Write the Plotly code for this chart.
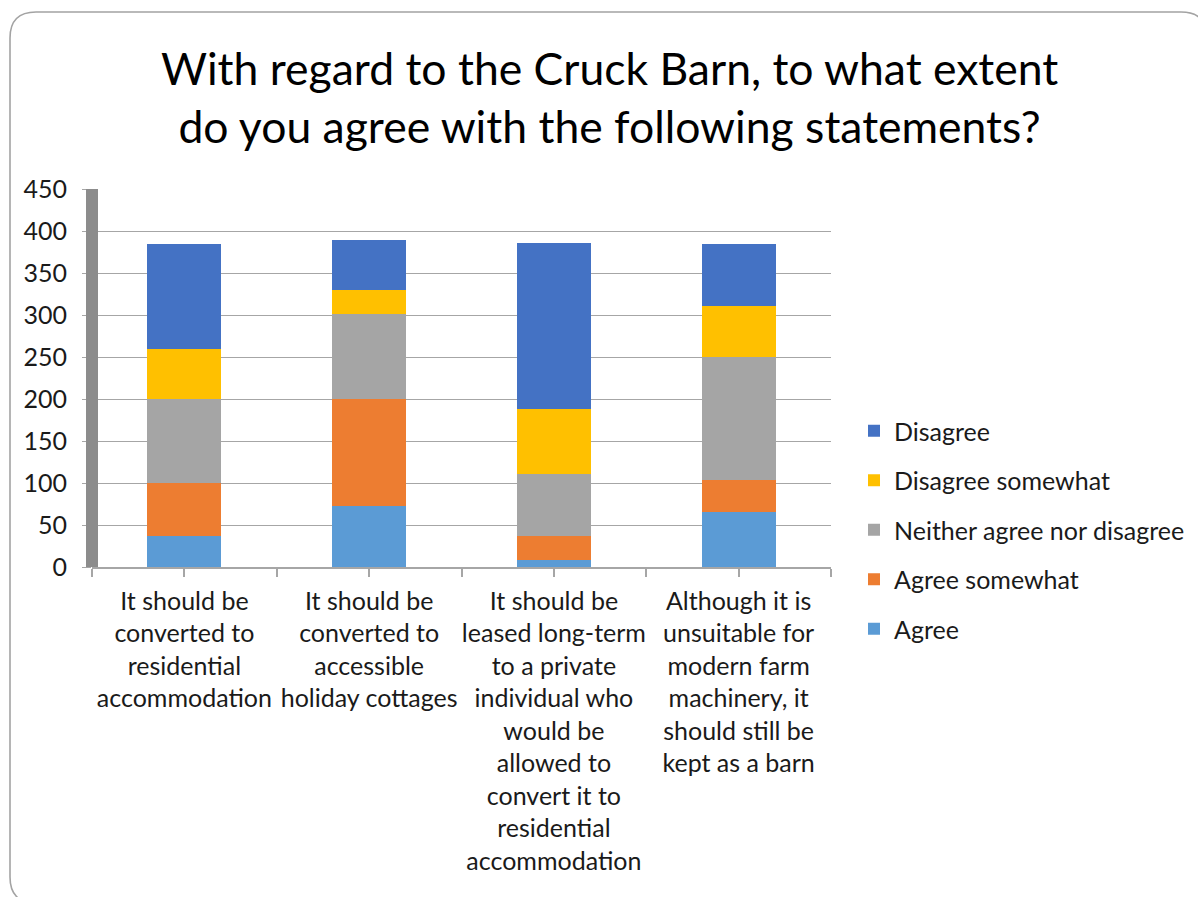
import plotly.graph_objects as go

# Survey statements (x categories) and response counts per answer
statements = [
    "It should be<br>converted to<br>residential<br>accommodation",
    "It should be<br>converted to<br>accessible<br>holiday cottages",
    "It should be<br>leased long-term<br>to a private<br>individual who<br>would be<br>allowed to<br>convert it to<br>residential<br>accommodation",
    "Although it is<br>unsuitable for<br>modern farm<br>machinery, it<br>should still be<br>kept as a barn",
]
agree = [37, 73, 8, 65]
agree_somewhat = [63, 127, 29, 39]
neither = [100, 101, 74, 146]
disagree_somewhat = [59, 29, 77, 61]
disagree = [126, 59, 198, 74]

y_ticks = [0, 50, 100, 150, 200, 250, 300, 350, 400, 450]

series = [
    ("Agree", agree, "#5B9BD5"),
    ("Agree somewhat", agree_somewhat, "#ED7D31"),
    ("Neither agree nor disagree", neither, "#A5A5A5"),
    ("Disagree somewhat", disagree_somewhat, "#FFC000"),
    ("Disagree", disagree, "#4472C4"),
]

FONT = "Lato"
TEXT = "#1a1a1a"
SIZE = 25

# plot-area box in page pixels
W, H = 1198, 897
L, R, T, B = 92, 831, 189, 567


def px(x):
    return (x - L) / (R - L)


def py(y):
    return (B - y) / (B - T)


positions = list(range(len(statements)))

fig = go.Figure()
for i, (name, vals, color) in enumerate(series):
    fig.add_trace(go.Bar(
        x=positions, y=vals, name=name, width=0.4,
        marker=dict(color=color, line=dict(width=0)),
        legendgroup=name,
        legendrank=len(series) - i,  # top of stack listed first
    ))

# slide frame with rounded corners
rad_x, rad_y = 26, 26
fl, ft, fr, fb = 10, 12, 1207, 903
frame = (
    f"M {px(fl)} {py(fb - rad_y)} "
    f"L {px(fl)} {py(ft + rad_y)} "
    f"Q {px(fl)} {py(ft)} {px(fl + rad_x)} {py(ft)} "
    f"L {px(fr - rad_x)} {py(ft)} "
    f"Q {px(fr)} {py(ft)} {px(fr)} {py(ft + rad_y)} "
    f"L {px(fr)} {py(fb - rad_y)} "
    f"Q {px(fr)} {py(fb)} {px(fr - rad_x)} {py(fb)} "
    f"L {px(fl + rad_x)} {py(fb)} "
    f"Q {px(fl)} {py(fb)} {px(fl)} {py(fb - rad_y)} Z"
)

shapes = [
    dict(type="path", xref="paper", yref="paper", path=frame,
         line=dict(color="#a3a3a3", width=1.6), layer="below"),
    # thick side wall along the value axis
    dict(type="rect", xref="paper", yref="paper",
         x0=px(86), x1=px(98), y0=0, y1=1,
         fillcolor="#8c8c8c", line=dict(width=0), layer="above"),
]

fig.update_layout(
    width=W, height=H,
    margin=dict(l=L, r=W - R, t=T, b=H - B, pad=0, autoexpand=False),
    paper_bgcolor="white", plot_bgcolor="white",
    barmode="stack", bargap=0.6,
    font=dict(family=FONT, color=TEXT, size=SIZE),
    showlegend=True,
    legend=dict(
        x=px(854), y=py(408), xanchor="left", yanchor="top",
        traceorder="grouped", tracegroupgap=14,
        font=dict(family=FONT, size=SIZE, color=TEXT),
        itemwidth=30, bgcolor="rgba(0,0,0,0)",
    ),
    shapes=shapes,
    annotations=[dict(
        xref="paper", yref="paper", x=px(609), y=py(96),
        xanchor="center", yanchor="middle", showarrow=False,
        text="With regard to the Cruck Barn, to what extent<br>do you agree with the following statements?",
        font=dict(family=FONT, size=44.5, color="#000000"),
    )],
    xaxis=dict(
        range=[-0.5, 3.5], tickmode="array", tickvals=positions, ticktext=statements,
        showgrid=False, zeroline=False,
        showline=True, linecolor="#a6a6a6", linewidth=1.5,
        ticks="outside", ticklen=8, tickcolor="#a6a6a6", tickwidth=1.5,
        ticklabelstandoff=3,
        minor=dict(ticks="outside", tick0=-0.5, dtick=0.5, ticklen=8,
                   tickcolor="#a6a6a6", tickwidth=1.5, showgrid=False),
        tickfont=dict(family=FONT, size=SIZE, color=TEXT),
        fixedrange=True,
    ),
    yaxis=dict(
        range=[0, 450], tickmode="array", tickvals=y_ticks,
        showgrid=True, gridcolor="#a6a6a6", gridwidth=1.2,
        zeroline=False, showline=False,
        ticks="outside", ticklen=9, tickcolor="#a6a6a6", tickwidth=1.2,
        ticklabelstandoff=10,
        tickfont=dict(family=FONT, size=SIZE, color=TEXT),
        fixedrange=True,
    ),
)

fig.write_html("out.html")
